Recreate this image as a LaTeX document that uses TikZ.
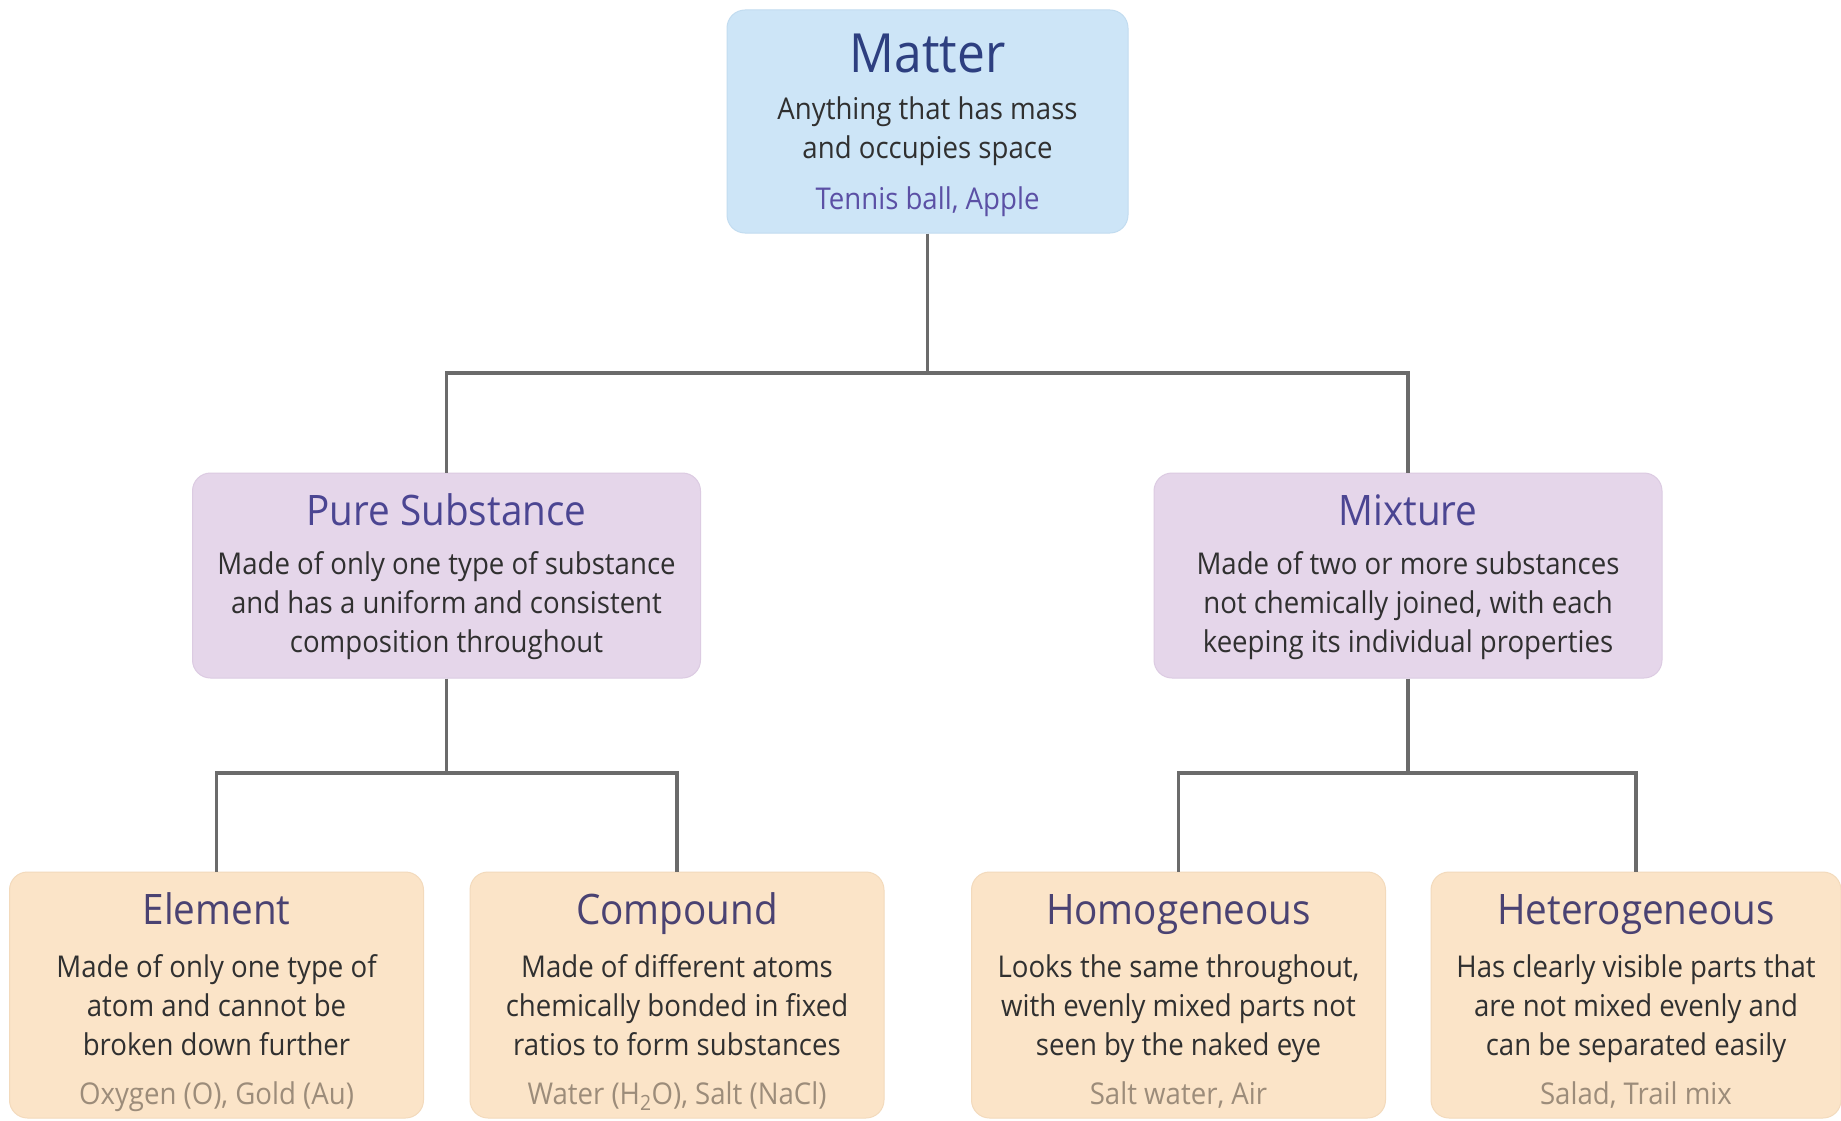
\documentclass[tikz,border=0pt]{standalone}
\usepackage{fontspec}
\setmainfont{Open Sans}[FakeStretch=0.92]
\definecolor{bluefill}{HTML}{CDE5F7}
\definecolor{blueedge}{HTML}{C2DCF0}
\definecolor{purplefill}{HTML}{E5D6EA}
\definecolor{purpleedge}{HTML}{DCCBE2}
\definecolor{peachfill}{HTML}{FBE4C8}
\definecolor{peachedge}{HTML}{F3DABC}
\definecolor{linegray}{HTML}{6B6B6B}
\definecolor{descgray}{HTML}{303030}
\definecolor{navytitle}{HTML}{2D3F80}
\definecolor{purpletitle}{HTML}{4B4592}
\definecolor{browntitle}{HTML}{4A4272}
\definecolor{blueex}{HTML}{5B50A5}
\definecolor{brownex}{HTML}{9C8C7A}
\newcommand\tblk[1]{\begin{tabular}[t]{@{}c@{}}#1\end{tabular}}
\tikzset{
  box/.style={rounded corners=18pt, inner sep=0pt, line width=1pt},
  bluebox/.style={box, fill=bluefill, draw=blueedge},
  purplebox/.style={box, fill=purplefill, draw=purpleedge, minimum width=508pt, minimum height=205pt},
  peachbox/.style={box, fill=peachfill, draw=peachedge, minimum width=414pt, minimum height=246pt},
  conn/.style={draw=linegray, line width=3.2pt},
  ttl/.style={anchor=base, inner sep=0pt, font=\fontsize{42}{50}\selectfont},
  dsc/.style={anchor=base, inner sep=0pt, font=\fontsize{30}{39}\selectfont, text=descgray},
  exm/.style={anchor=base, inner sep=0pt, font=\fontsize{30}{39}\selectfont},
}
\begin{document}
\begin{tikzpicture}[x=1pt,y=-1pt]
\fill[white] (0,0) rectangle (1841,1121);
\useasboundingbox (0,0) rectangle (1841,1121);

% boxes
\node[bluebox, minimum width=401pt, minimum height=223pt] (matter) at (927.5,121.5) {};
\node[purplebox] (ps) at (446.5,575.5) {};
\node[purplebox] (mix) at (1408,575.5) {};
\node[peachbox] (el) at (216.5,995) {};
\node[peachbox] (co) at (677,995) {};
\node[peachbox] (ho) at (1178.5,995) {};
\node[peachbox, minimum width=410pt] (he) at (1636,995) {};

% connectors
\coordinate (j1) at (927.5,373);
\coordinate (j2) at (446.5,773);
\coordinate (j3) at (1408,773);
\draw[conn] (matter.south) -- (j1);
\draw[conn] (ps.north) |- (j1) -| (mix.north);
\draw[conn] (ps.south) -- (j2);
\draw[conn] (el.north) |- (j2) -| (co.north);
\draw[conn] (mix.south) -- (j3);
\draw[conn] (ho.north) |- (j3) -| (he.north);

% Matter texts
\node[ttl, font=\fontsize{54}{60}\selectfont, text=navytitle] (mt) at (927.5,73) {Matter};
\node[dsc] (md) at (927.5,120) {\tblk{Anything that has mass\\and occupies space}};
\node[exm, text=blueex] (me) at (927.5,209) {Tennis ball, Apple};

% Pure substance texts
\node[ttl, text=purpletitle] (pst) at (446.5,525) {Pure Substance};
\node[dsc] (psd) at (446.5,574) {\tblk{Made of only one type of substance\\and has a uniform and consistent\\composition throughout}};

% Mixture texts
\node[ttl, text=purpletitle] (mxt) at (1408,525) {Mixture};
\node[dsc] (mxd) at (1408,574) {\tblk{Made of two or more substances\\not chemically joined, with each\\keeping its individual properties}};

% Element
\node[ttl, text=browntitle] (elt) at (216.5,924) {Element};
\node[dsc] (eld) at (216.5,977) {\tblk{Made of only one type of\\atom and cannot be\\broken down further}};
\node[exm, text=brownex] (ele) at (216.5,1104) {Oxygen (O), Gold (Au)};

% Compound
\node[ttl, text=browntitle] (cot) at (677,924) {Compound};
\node[dsc] (cod) at (677,977) {\tblk{Made of different atoms\\chemically bonded in fixed\\ratios to form substances}};
\node[exm, text=brownex] (coe) at (677,1104) {Water (H\textsubscript{2}O), Salt (NaCl)};

% Homogeneous
\node[ttl, text=browntitle] (hot) at (1178.5,924) {Homogeneous};
\node[dsc] (hod) at (1178.5,977) {\tblk{Looks the same throughout,\\with evenly mixed parts not\\seen by the naked eye}};
\node[exm, text=brownex] (hoe) at (1178.5,1104) {Salt water, Air};

% Heterogeneous
\node[ttl, text=browntitle] (het) at (1636,924) {Heterogeneous};
\node[dsc] (hed) at (1636,977) {\tblk{Has clearly visible parts that\\are not mixed evenly and\\can be separated easily}};
\node[exm, text=brownex] (hee) at (1636,1104) {Salad, Trail mix};
\end{tikzpicture}
\end{document}
